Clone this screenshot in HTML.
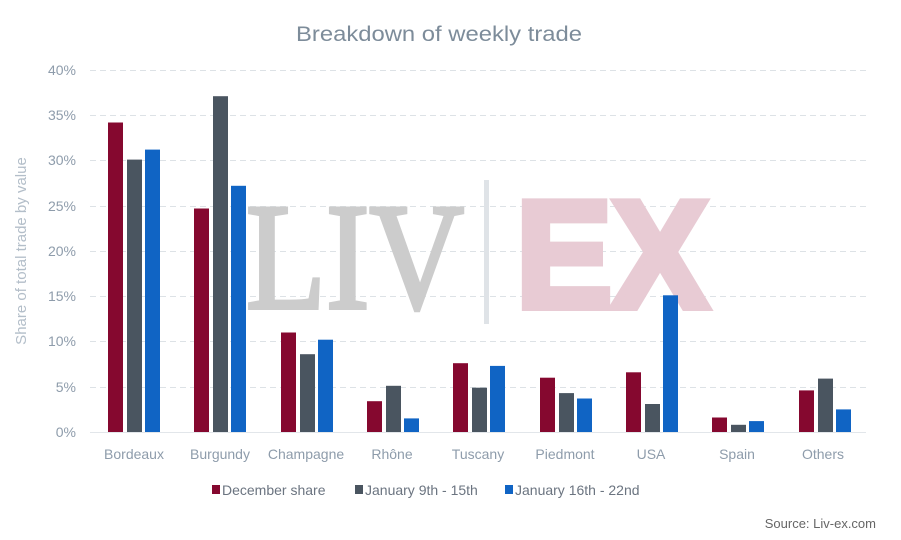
<!DOCTYPE html>
<html><head><meta charset="utf-8"><style>
html,body{margin:0;padding:0;background:#fff}
svg{display:block}
</style></head><body>
<svg width="901" height="540" viewBox="0 0 901 540" xmlns="http://www.w3.org/2000/svg" font-family="Liberation Sans, sans-serif">
<rect width="901" height="540" fill="#fff"/>
<text x="439" y="41" text-anchor="middle" font-size="21" fill="#7d8c9a" textLength="286" lengthAdjust="spacingAndGlyphs">Breakdown of weekly trade</text>
<g stroke="#dde2e6" stroke-width="1" stroke-dasharray="6,4">
<line x1="90" x2="866" y1="70.5" y2="70.5"/>
<line x1="90" x2="866" y1="115.5" y2="115.5"/>
<line x1="90" x2="866" y1="160.5" y2="160.5"/>
<line x1="90" x2="866" y1="206.5" y2="206.5"/>
<line x1="90" x2="866" y1="251.5" y2="251.5"/>
<line x1="90" x2="866" y1="296.5" y2="296.5"/>
<line x1="90" x2="866" y1="341.5" y2="341.5"/>
<line x1="90" x2="866" y1="387.5" y2="387.5"/>
</g>
<line x1="90" x2="866" y1="432.5" y2="432.5" stroke="#e2e6ea"/>
<g font-size="14" fill="#8e9cab" text-anchor="end">
<text x="76" y="75">40%</text><text x="76" y="120">35%</text><text x="76" y="165">30%</text><text x="76" y="211">25%</text><text x="76" y="256">20%</text><text x="76" y="301">15%</text><text x="76" y="346">10%</text><text x="76" y="392">5%</text><text x="76" y="437">0%</text>
</g>
<text transform="translate(26,251) rotate(-90)" text-anchor="middle" font-size="15" fill="#b3bec9">Share of total trade by value</text>
<text x="246" y="308" font-family="Liberation Serif, serif" font-size="152" fill="#cccccc" stroke="#cccccc" stroke-width="4" textLength="218" lengthAdjust="spacingAndGlyphs">LIV</text>
<rect x="484" y="180" width="5" height="144" fill="#dfe3e7"/>
<text x="516" y="307" font-family="Liberation Sans, sans-serif" font-weight="bold" font-size="152" fill="#e8cbd4" stroke="#e8cbd4" stroke-width="8" stroke-linejoin="miter" textLength="192" lengthAdjust="spacingAndGlyphs">EX</text>
<g font-size="14" fill="#8e9cab" text-anchor="middle">
<text x="134" y="459">Bordeaux</text><text x="220" y="459">Burgundy</text><text x="306" y="459">Champagne</text><text x="392" y="459">Rhône</text><text x="478" y="459">Tuscany</text><text x="565" y="459">Piedmont</text><text x="651" y="459">USA</text><text x="737" y="459">Spain</text><text x="823" y="459">Others</text>
</g>
<g font-size="14" fill="#6b7480">
<rect x="212" y="485" width="8" height="9" fill="#85082f"/><text x="222" y="495">December share</text>
<rect x="355" y="485" width="8" height="9" fill="#4a5560"/><text x="365" y="495">January 9th - 15th</text>
<rect x="505" y="485" width="8" height="9" fill="#1064c4"/><text x="515" y="495">January 16th - 22nd</text>
</g>
<text x="876" y="528" text-anchor="end" font-size="13" fill="#666">Source: Liv-ex.com</text>
<g>
<rect x="108" y="122.5" width="15" height="309.5" fill="#85082f"/><rect x="127" y="159.6" width="15" height="272.4" fill="#4a5560"/><rect x="145" y="149.6" width="15" height="282.4" fill="#1064c4"/>
<rect x="194" y="208.5" width="15" height="223.5" fill="#85082f"/><rect x="213" y="96.2" width="15" height="335.8" fill="#4a5560"/><rect x="231" y="185.8" width="15" height="246.2" fill="#1064c4"/>
<rect x="281" y="332.5" width="15" height="99.5" fill="#85082f"/><rect x="300" y="354.2" width="15" height="77.8" fill="#4a5560"/><rect x="318" y="339.7" width="15" height="92.3" fill="#1064c4"/>
<rect x="367" y="401.2" width="15" height="30.8" fill="#85082f"/><rect x="386" y="385.8" width="15" height="46.2" fill="#4a5560"/><rect x="404" y="418.4" width="15" height="13.6" fill="#1064c4"/>
<rect x="453" y="363.2" width="15" height="68.8" fill="#85082f"/><rect x="472" y="387.7" width="15" height="44.3" fill="#4a5560"/><rect x="490" y="365.9" width="15" height="66.1" fill="#1064c4"/>
<rect x="540" y="377.7" width="15" height="54.3" fill="#85082f"/><rect x="559" y="393.1" width="15" height="38.9" fill="#4a5560"/><rect x="577" y="398.5" width="15" height="33.5" fill="#1064c4"/>
<rect x="626" y="372.3" width="15" height="59.7" fill="#85082f"/><rect x="645" y="404.0" width="15" height="28.0" fill="#4a5560"/><rect x="663" y="295.3" width="15" height="136.7" fill="#1064c4"/>
<rect x="712" y="417.5" width="15" height="14.5" fill="#85082f"/><rect x="731" y="424.8" width="15" height="7.2" fill="#4a5560"/><rect x="749" y="421.1" width="15" height="10.9" fill="#1064c4"/>
<rect x="799" y="390.4" width="15" height="41.6" fill="#85082f"/><rect x="818" y="378.6" width="15" height="53.4" fill="#4a5560"/><rect x="836" y="409.4" width="15" height="22.6" fill="#1064c4"/>
</g>
</svg>
</body></html>
